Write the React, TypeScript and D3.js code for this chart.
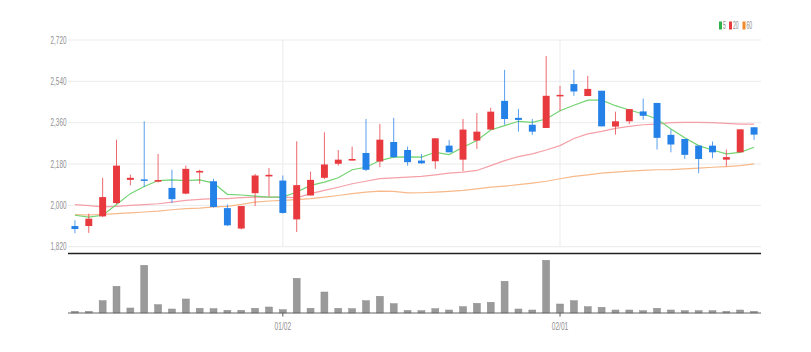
import React from "react";
import * as d3 from "d3";

const openP = [1910,1910,1952,2010,2111,2113,2103,2076,2051,2143,2105,1988,1899,2053,2126,2108,1939,2043,2120,2181,2195,2228,2191,2276,2241,2195,2192,2260,2199,2282,2330,2455,2381,2351,2337,2476,2528,2476,2499,2343,2366,2409,2446,2307,2289,2260,2260,2199,2231,2340];
const highP = [1935,1964,2120,2286,2134,2366,2224,2155,2173,2155,2116,2004,1997,2137,2163,2130,2279,2147,2318,2241,2256,2376,2354,2381,2256,2224,2292,2285,2376,2402,2425,2590,2420,2376,2650,2520,2590,2564,2499,2408,2419,2465,2446,2330,2289,2260,2278,2243,2331,2340];
const lowP = [1879,1880,1949,2005,2087,2080,2100,2010,2048,2094,1990,1910,1895,1997,2039,1964,1884,2043,2114,2173,2195,2149,2166,2206,2173,2181,2159,2231,2149,2246,2330,2351,2321,2307,2337,2412,2477,2476,2344,2308,2354,2373,2243,2231,2202,2140,2205,2170,2231,2285];
const closeP = [1897,1942,2036,2173,2120,2107,2110,2027,2159,2150,1993,1913,1997,2130,2133,1967,2088,2111,2178,2199,2202,2155,2286,2210,2188,2183,2292,2231,2330,2321,2408,2376,2372,2321,2477,2481,2496,2507,2344,2366,2419,2390,2294,2265,2220,2202,2231,2210,2331,2308];
const volume = [17000,17000,123000,267000,50000,477000,83000,40000,140000,47000,43000,27000,27000,47000,60000,33000,347000,47000,210000,47000,43000,123000,167000,93000,25000,23000,43000,30000,63000,97000,107000,317000,40000,30000,527000,90000,123000,63000,57000,30000,30000,23000,47000,30000,23000,23000,23000,17000,30000,17000];
const ma5 = [1957,1949,1957,2004,2051,2082,2108,2111,2108,2111,2097,2048,2045,2040,2036,2036,2058,2087,2101,2120,2155,2166,2195,2210,2211,2210,2231,2221,2253,2282,2328,2347,2366,2361,2376,2412,2436,2458,2458,2434,2415,2398,2376,2333,2294,2260,2241,2224,2231,2253];
const ma20 = [2003,1999,1993,1996,2000,2003,2007,2014,2022,2026,2029,2029,2034,2036,2036,2036,2033,2051,2065,2079,2094,2105,2116,2120,2123,2126,2133,2140,2145,2152,2173,2195,2212,2224,2241,2260,2291,2311,2322,2335,2344,2351,2354,2360,2361,2361,2360,2357,2354,2354];
const ma60 = [1960,1958,1961,1964,1967,1971,1975,1981,1986,1988,1993,1996,2004,2014,2019,2022,2025,2029,2036,2043,2051,2058,2062,2061,2054,2055,2058,2061,2065,2072,2079,2084,2090,2097,2105,2116,2126,2133,2140,2145,2149,2152,2155,2156,2159,2162,2166,2169,2173,2181];
const yTicks = [1820, 2000, 2180, 2360, 2540, 2720];
const xTickIndex = [15, 35];
const xTickLabels = ["01/02", "02/01"];
const legendLabels = ["5", "20", "60"];

const W = 811, H = 352;
const L = 68, R = 761;
const UP = "#e8393e", DOWN = "#2381e8";

export default function App() {
  const idx = closeP.map((_, i) => i);
  const x = d3.scaleBand<number>().domain(idx).range([L, R]).paddingInner(0.5).paddingOuter(0.25);
  const bw = x.bandwidth();
  const cx = (i: number) => (x(i) as number) + bw / 2;
  const y = d3.scaleLinear().domain([1820, 2720]).range([246.7, 40]);
  const yv = d3.scaleLinear().domain([0, 580000]).range([313, 255]);
  const line = (arr: number[]) =>
    d3.line<number>().x((_, i) => cx(i)).y((d) => y(d))(arr) as string;
  const fmt = d3.format(",");
  const legendColors = ["#2bb24c", "#e8393e", "#f08a2c"];
  const maColors = ["#72d472", "#f5a0a8", "#f7b98a"];
  const legendX = [719, 729, 742.5];

  return (
    <svg width={W} height={H} style={{ position: "absolute", left: 0, top: 0, background: "#fff" }}
      fontFamily="'Liberation Sans', Arial, sans-serif">
      {yTicks.map((t) => (
        <line key={t} x1={L} x2={R} y1={y(t)} y2={y(t)} stroke="#ebebeb" strokeWidth={1} />
      ))}
      {xTickIndex.map((i) => (
        <line key={i} x1={cx(i)} x2={cx(i)} y1={y(2720)} y2={y(1820)} stroke="#ebebeb" strokeWidth={1} />
      ))}
      {yTicks.map((t) => (
        <text key={t} x={66.5} y={y(t) + 3.5} textAnchor="end" fontSize={10.5} fill="#909090"
          textLength={16} lengthAdjust="spacingAndGlyphs">{fmt(t)}</text>
      ))}
      {[ma60, ma20, ma5].map((arr, k) => (
        <path key={k} d={line(arr)} fill="none" stroke={maColors[2 - k]} strokeWidth={1.2} />
      ))}
      {idx.map((i) => {
        const up = closeP[i] >= openP[i];
        const c = up ? UP : DOWN;
        const top = y(Math.max(openP[i], closeP[i]));
        const bot = y(Math.min(openP[i], closeP[i]));
        return (
          <g key={i}>
            <line x1={cx(i)} x2={cx(i)} y1={y(highP[i])} y2={y(lowP[i])} stroke={c} strokeWidth={1} opacity={0.75} />
            <rect x={x(i) as number} width={bw} y={top} height={Math.max(1.5, bot - top)} fill={c} />
          </g>
        );
      })}
      <line x1={L} x2={R} y1={253.5} y2={253.5} stroke="#222" strokeWidth={1.6} />
      {idx.map((i) => (
        <rect key={i} x={x(i) as number} width={bw} y={yv(volume[i])} height={yv(0) - yv(volume[i])}
          fill="#9a9a9a" stroke="#8a8a8a" strokeWidth={0.5} />
      ))}
      <line x1={L} x2={R} y1={yv(0)} y2={yv(0)} stroke="#666" strokeWidth={1.2} />
      {xTickIndex.map((i, k) => (
        <g key={i}>
          <line x1={cx(i)} x2={cx(i)} y1={yv(0)} y2={yv(0) + 3.5} stroke="#555" strokeWidth={1} />
          <text x={cx(i)} y={330} textAnchor="middle" fontSize={10.5} fill="#909090"
            textLength={16.5} lengthAdjust="spacingAndGlyphs">{xTickLabels[k]}</text>
        </g>
      ))}
      {legendLabels.map((lab, k) => (
        <g key={lab}>
          <rect x={legendX[k]} y={21.5} width={3} height={8} fill={legendColors[k]} />
          <text x={legendX[k] + 4} y={29} fontSize={10} fill="#888"
            textLength={lab.length * 2.8} lengthAdjust="spacingAndGlyphs">{lab}</text>
        </g>
      ))}
    </svg>
  );
}
